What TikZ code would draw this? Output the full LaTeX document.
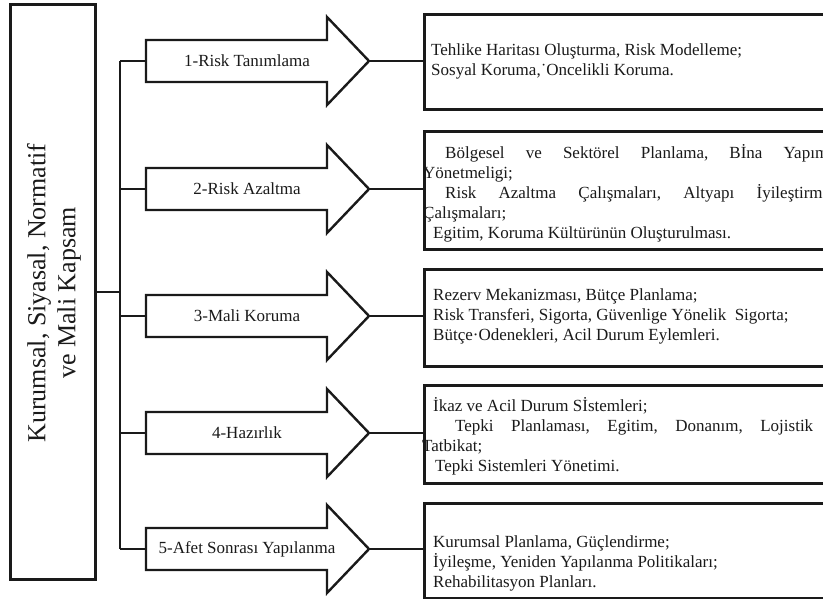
\documentclass[tikz,border=0pt]{standalone}
\usepackage{fontspec}
\setmainfont{Liberation Serif}
\definecolor{ink}{HTML}{1A1A1A}
\begin{document}
\begin{tikzpicture}[x=1pt,y=-1pt,line join=miter,
  frame/.style={draw=ink,line width=2.6pt,fill=white,inner sep=0pt},
  arr/.style={draw=ink,line width=2.4pt,fill=white},
  conn/.style={draw=ink,line width=1.5pt},
  alab/.style={font=\fontsize{17}{20}\selectfont,text=ink,inner sep=0pt},
  btxt/.style={font=\fontsize{17}{20}\selectfont,text=ink,inner sep=0pt,align=left,anchor=west}]
\clip (0,0) rectangle (823,599);
\fill[white] (0,0) rectangle (823,599);
% left main box
\node[frame,anchor=north west,minimum width=85,minimum height=575] (main) at (9,3) {};
\node[rotate=90,align=center,font=\fontsize{26}{30}\selectfont,text=ink,inner sep=0pt] (maintext) at (54,293) {Kurumsal, Siyasal, Normatif\\ve Mali Kapsam};
% trunk
\coordinate (trunkTop) at (120,61);
\coordinate (trunkBot) at (120,549);
\draw[conn] (trunkTop) -- (trunkBot);
\draw[conn] (main.east) -- (main.east -| trunkTop);
% right boxes
\node[frame,anchor=north west,minimum width=430,minimum height=95] (box1) at (423,13) {};
\node[frame,anchor=north west,minimum width=430,minimum height=118] (box2) at (423,130) {};
\node[frame,anchor=north west,minimum width=430,minimum height=97] (box3) at (423,268) {};
\node[frame,anchor=north west,minimum width=430,minimum height=98] (box4) at (423,384) {};
\node[frame,anchor=north west,minimum width=430,minimum height=95] (box5) at (423,502) {};
% arrows
\foreach \i/\t/\lab in {1/61/{1-Risk Tanımlama},2/189/{2-Risk Azaltma},3/316/{3-Mali Koruma},4/433/{4-Hazırlık},5/549/{5-Afet Sonrası Yapılanma}}{
  \draw[arr] (146,\t-21) -- (327,\t-21) -- (327,\t-44) -- (369,\t) -- (327,\t+44) -- (327,\t+21) -- (146,\t+21) -- cycle;
  \coordinate (arr\i-in) at (146,\t);
  \coordinate (arr\i-tip) at (369,\t);
  \node[alab] (lab\i) at (247,\t) {\lab};
  \draw[conn] (arr\i-in -| trunkTop) -- (arr\i-in);
  \draw[conn] (arr\i-tip) -- (arr\i-tip -| box\i.west);
}
% box texts
\node[btxt] (t1) at (431,61) {Tehlike Haritası Oluşturma, Risk Modelleme;\\Sosyal Koruma,˙Oncelikli Koruma.};
\node[btxt] (t2) at (423,193) {\hspace*{22pt}\hbox to 383pt{Bölgesel\hfill ve\hfill Sektörel\hfill Planlama,\hfill Bİna\hfill Yapım}\\
Yönetmeligi;\\
\hspace*{22pt}\hbox to 385pt{Risk\hfill Azaltma\hfill Çalışmaları,\hfill Altyapı\hfill İyileştirme}\\
Çalışmaları;\\
\hspace*{10pt}Egitim, Koruma Kültürünün Oluşturulması.};
\node[btxt] (t3) at (433,316) {Rezerv Mekanizması, Bütçe Planlama;\\Risk Transferi, Sigorta, Güvenlige Yönelik\ \ Sigorta;\\Bütçe·Odenekleri, Acil Durum Eylemleri.};
\node[btxt] (t4) at (422,436) {\hspace*{11pt}İkaz ve Acil Durum Sİstemleri;\\
\hspace*{33pt}\hbox to 358pt{Tepki\hfill Planlaması,\hfill Egitim,\hfill Donanım,\hfill Lojistik}\\
Tatbikat;\\
\hspace*{13pt}Tepki Sistemleri Yönetimi.};
\node[btxt] (t5) at (433,563) {Kurumsal Planlama, Güçlendirme;\\İyileşme, Yeniden Yapılanma Politikaları;\\Rehabilitasyon Planları.};
\end{tikzpicture}
\end{document}
